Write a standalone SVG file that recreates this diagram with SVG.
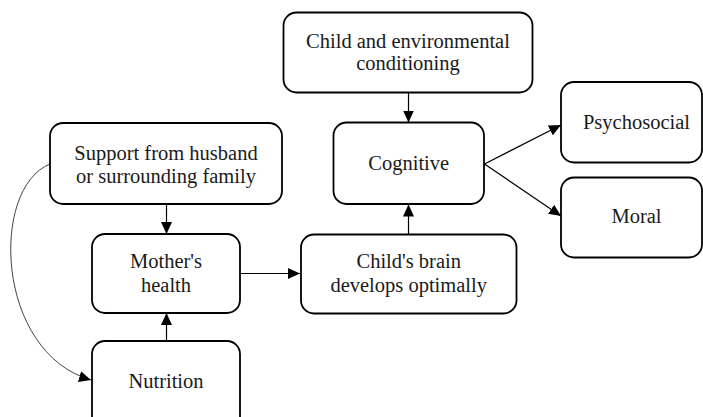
<svg xmlns="http://www.w3.org/2000/svg" width="703" height="417" viewBox="0 0 703 417">
  <style>
    .box { fill: #ffffff; stroke: #000000; stroke-width: 1.8; }
    .lbl { font-family: "Liberation Serif", "Times New Roman", serif; font-size: 20.5px; fill: #1a1a1a; text-anchor: middle; }
    .con { fill: none; stroke: #000000; stroke-width: 1.2; }
    .curve { fill: none; stroke: #444444; stroke-width: 1; }
  </style>
  <defs>
    <marker id="arrow" markerUnits="userSpaceOnUse" markerWidth="12" markerHeight="12" viewBox="0 0 12 12" refX="12" refY="6" orient="auto">
      <path d="M0,0.5 L12,6 L0,11.5 Z" fill="#000000"/>
    </marker>
  </defs>
  <rect width="703" height="417" fill="#ffffff"/>

  <g id="connectors">
    <line class="con" x1="166.5" y1="204" x2="166.5" y2="234" marker-end="url(#arrow)"/>
    <line class="con" x1="166.5" y1="341" x2="166.5" y2="313" marker-end="url(#arrow)"/>
    <line class="con" x1="237" y1="273.5" x2="300" y2="273.5" marker-end="url(#arrow)"/>
    <line class="con" x1="408.5" y1="93" x2="408.5" y2="122.5" marker-end="url(#arrow)"/>
    <line class="con" x1="408.5" y1="234" x2="408.5" y2="204.5" marker-end="url(#arrow)"/>
    <line class="con" x1="484.5" y1="164" x2="561" y2="125" marker-end="url(#arrow)"/>
    <line class="con" x1="484.5" y1="164" x2="561" y2="216" marker-end="url(#arrow)"/>
    <path class="curve" d="M50,164 C-10,188 -5,352 91,380" marker-end="url(#arrow)"/>
  </g>

  <g id="support">
    <rect class="box" x="50" y="123" width="232" height="81" rx="13"/>
    <text class="lbl" x="166" y="160">Support from husband</text>
    <text class="lbl" x="166" y="183">or surrounding family</text>
  </g>
  <g id="mother">
    <rect class="box" x="92" y="234" width="148" height="79" rx="13"/>
    <text class="lbl" x="166" y="268">Mother's</text>
    <text class="lbl" x="166" y="292">health</text>
  </g>
  <g id="nutrition">
    <rect class="box" x="92" y="341" width="148" height="90" rx="13"/>
    <text class="lbl" x="166" y="388">Nutrition</text>
  </g>
  <g id="childenv">
    <rect class="box" x="283.5" y="12.5" width="249" height="80" rx="13"/>
    <text class="lbl" x="408" y="48">Child and environmental</text>
    <text class="lbl" x="408" y="70">conditioning</text>
  </g>
  <g id="cognitive">
    <rect class="box" x="333.5" y="122.5" width="150.5" height="81.5" rx="13"/>
    <text class="lbl" x="408.7" y="170">Cognitive</text>
  </g>
  <g id="brain">
    <rect class="box" x="301" y="234.5" width="215.5" height="79" rx="13"/>
    <text class="lbl" x="408.7" y="268">Child's brain</text>
    <text class="lbl" x="408.7" y="292">develops optimally</text>
  </g>
  <g id="psychosocial">
    <rect class="box" x="561" y="82" width="141" height="80.5" rx="13"/>
    <text class="lbl" x="636.5" y="129">Psychosocial</text>
  </g>
  <g id="moral">
    <rect class="box" x="561" y="177.5" width="141" height="80" rx="13"/>
    <text class="lbl" x="636.5" y="223">Moral</text>
  </g>
</svg>
